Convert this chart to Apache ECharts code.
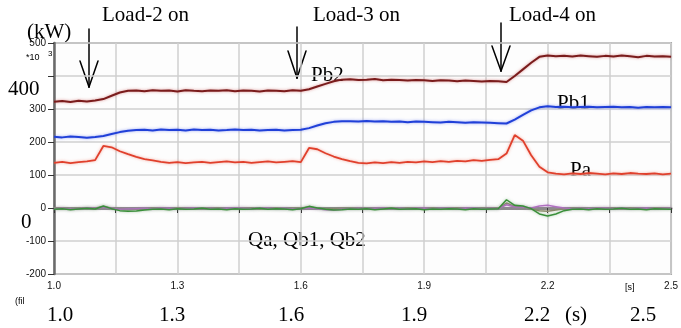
<!DOCTYPE html>
<html><head><meta charset="utf-8">
<script src="https://cdn.jsdelivr.net/npm/echarts@6/dist/echarts.min.js"></script>
<style>html,body{margin:0;padding:0;background:#fff}#c{width:681px;height:328px}</style>
</head><body><div id="c"></div>
<script>
// time (s)
const time = [1.00,1.02,1.04,1.06,1.08,1.10,1.12,1.14,1.16,1.18,1.20,1.22,1.24,1.26,1.28,1.30,1.32,1.34,1.36,1.38,1.40,1.42,1.44,1.46,1.48,1.50,1.52,1.54,1.56,1.58,1.60,1.62,1.64,1.66,1.68,1.70,1.72,1.74,1.76,1.78,1.80,1.82,1.84,1.86,1.88,1.90,1.92,1.94,1.96,1.98,2.00,2.02,2.04,2.06,2.08,2.10,2.12,2.14,2.16,2.18,2.20,2.22,2.24,2.26,2.28,2.30,2.32,2.34,2.36,2.38,2.40,2.42,2.44,2.46,2.48,2.50];
// kW
const pb2 = [322,324,321,325,323,326, 330,340,350,355,
  356,354,357,355,356,353,357,355,354,356,355,357,354,356,355,353,356,355,354,357,355,
  360,368,376,384,389,
  390,388,389,391,387,389,388,386,388,387,385,387,386,384,386,385,383,385,384,382,
  400,420,440,458,
  462,460,461,459,462,460,458,461,459,462,460,457,461,459,460,458];
const pb1 = [216,214,217,215,213,215, 218,224,230,234,
  236,237,235,238,236,237,235,238,236,237,235,236,238,236,237,235,236,237,235,236,237,
  242,250,257,261,263,
  263,262,264,262,263,261,262,260,262,261,260,259,261,260,258,260,259,258,257,256,
  268,282,296,305,
  308,306,307,305,306,307,305,306,307,305,306,304,306,305,306,305];
const pa = [137,140,136,139,141,145, 188,184,172,163,
  155,148,144,140,137,139,136,138,140,137,139,141,138,140,137,139,141,138,140,142,139,
  182,178,166,156,148,
  142,137,135,138,136,139,137,140,138,141,139,142,140,143,141,145,143,146,148,165,
  221,204,160,125,
  108,104,102,105,103,106,104,102,105,103,106,104,103,105,102,104];
const qb2 = [-4,-2,-5,-3,-1,-3, 6,-2,-8,-10,
  -9,-6,-4,-3,-5,-2,-4,-3,-1,-4,-3,-5,-2,-4,-3,-1,-4,-2,-3,-5,-2,
  5,0,-4,-6,-5,
  -3,-4,-2,-5,-3,-1,-4,-3,-2,-5,-3,-4,-2,-3,-5,-2,-4,-3,-2,25,
  8,6,-2,-18,
  -24,-18,-8,-4,-3,-5,-2,-4,-3,-1,-4,-3,-5,-2,-3,-4];
const qb1 = [-2,-1,-3,-2,0,-1, 2,-1,-4,-3,
  -2,-1,-2,0,-1,-2,-1,0,-2,-1,-2,-1,0,-1,-2,-1,0,-2,-1,-3,-2,
  0,-2,-5,-6,-4,
  -2,-1,-2,-1,0,-2,-1,-2,-1,0,-2,-1,-1,-2,0,-1,-2,-1,-2,10,
  3,2,0,6,
  8,4,0,-2,-1,-2,-1,0,-2,-1,-2,-1,0,-2,-1,-1];
const qa = [-1,0,-2,-1,1,0, 4,0,-3,-5,
  -4,-2,-1,0,-2,-1,0,-1,-2,0,-1,-2,-1,0,-1,-2,0,-1,-2,-1,0,
  3,-1,-3,-2,-1,
  -1,0,-2,-1,0,-1,-2,0,-1,-1,0,-2,-1,0,-1,-2,-1,0,-1,15,
  5,2,-3,-8,
  -10,-6,-2,-1,0,-2,-1,0,-1,-2,0,-1,-2,-1,0,-1];
const T0 = 1.0;
const xTickStep = 0.15;
const yTicks = [-200,-100,0,100,200,300,400,500];
const bottomLabels = ['1.0','1.3','1.6','1.9','2.2','(s)','2.5'];

const pairs = arr => arr.map((v,i)=>[+(time[i]-T0).toFixed(3), v]);
const chart = echarts.init(document.getElementById('c'), null, {renderer:'canvas'});
const serif = 'Liberation Serif, Times New Roman, serif';
const sans = 'Liberation Sans, Arial, sans-serif';
function mkLine(name, data, color, halo, w){
  return {name, type:'line', data:pairs(data), symbol:'none', animation:false,
    lineStyle:{color, width:w, shadowColor:halo, shadowBlur:3}};
}
function txt(text, x, y, size, align, font){
  return {type:'text', x, y, style:{text, fill:'#000', font:`${size}px ${font||serif}`, align:align||'left', verticalAlign:'middle'}};
}
function seg(x1,y1,x2,y2){
  return {type:'line', shape:{x1,y1,x2,y2}, style:{stroke:'#000', lineWidth:1.5, lineCap:'round'}};
}
function arrow(x, y0, y1, hl, hw){
  return [seg(x,y0,x,y1), seg(x-hw,y1-hl,x,y1), seg(x+hw,y1-hl,x,y1)];
}
const bx = [60,172,291,414,537,576,643];
const graphics = [
  txt('Load-2 on',102,15,21), txt('Load-3 on',313,15,21), txt('Load-4 on',509,15,21),
  txt('(kW)',27,32,21), txt('400',8,89,21), txt('0',21,222,21),
  txt('Pb2',311,75,21), txt('Pb1',557,103,21), txt('Pa',570,170,21),
  txt('Qa, Qb1, Qb2',248,240,21),
  txt('*10',26,58,9,'left',sans), txt('3',48,54,8,'left',sans),
  txt('(fil',15,302,9,'left',sans), txt('[s]',625,288,9,'left',sans),
  ...bottomLabels.map((s,i)=>txt(s,bx[i],315,21,'center')),
  ...arrow(89,29,87,26,9), ...arrow(297,27,78,27,9), ...arrow(501,23,71,25,9)
];
chart.setOption({
  animation:false,
  grid:{left:54, right:6, top:43, bottom:54, show:true, borderColor:'#a8a8a8', borderWidth:2, backgroundColor:'#fdfdfd'},
  xAxis:{type:'value', min:0, max:1.5, interval:xTickStep,
    axisLine:{lineStyle:{color:'#8c8c8c', width:3}},
    axisTick:{show:true, length:5, lineStyle:{color:'#333', width:1}},
    axisLabel:{margin:7, color:'#111', fontSize:10, fontFamily:sans,
      formatter:v=>{const k=Math.round(v/xTickStep); return k%2===0 ? (T0+v).toFixed(1) : '';}},
    splitLine:{show:true, lineStyle:{color:'#cfcfcf', width:1.5}}},
  yAxis:{type:'value', min:yTicks[0], max:yTicks[yTicks.length-1], interval:100,
    axisLine:{show:true, lineStyle:{color:'#6a6a6a', width:2.5}},
    axisTick:{show:true, length:6, lineStyle:{color:'#333', width:1}},
    axisLabel:{margin:8, color:'#111', fontSize:10, fontFamily:sans,
      formatter:v=> v===400 ? '' : String(v)},
    splitLine:{show:true, lineStyle:{color:'#cfcfcf', width:1.5}}},
  series:[
    mkLine('Qa', qa, '#8a8a6a', 'rgba(150,150,120,0.4)', 1.5),
    mkLine('Qb1', qb1, '#b070c0', 'rgba(180,120,200,0.5)', 1.5),
    mkLine('Qb2', qb2, '#3a8f3a', 'rgba(80,160,80,0.5)', 1.5),
    mkLine('Pa', pa, '#e0402c', 'rgba(240,110,90,0.6)', 1.8),
    mkLine('Pb1', pb1, '#2040d8', 'rgba(90,110,240,0.6)', 2),
    mkLine('Pb2', pb2, '#7a1c1c', 'rgba(200,80,80,0.6)', 2)
  ],
  graphic:graphics
});
</script></body></html>
